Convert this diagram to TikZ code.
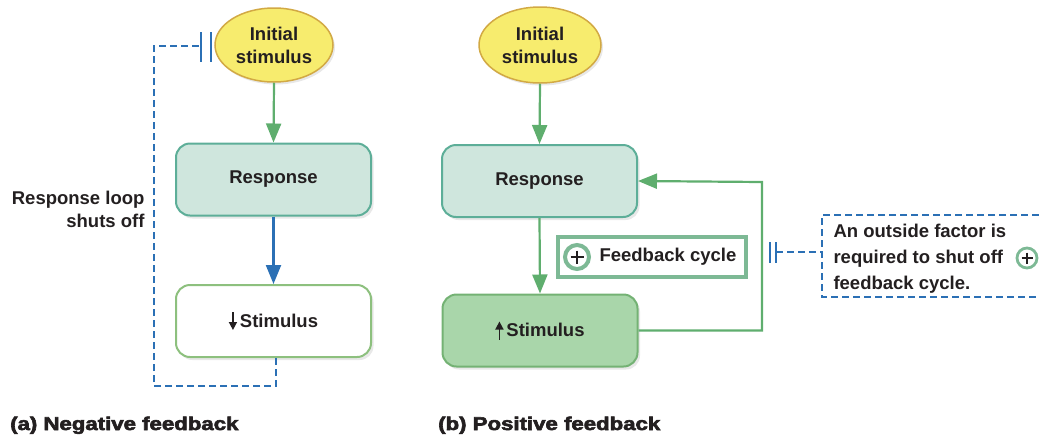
\documentclass[tikz,border=0pt]{standalone}
\usepackage{fontspec}
\setmainfont{Liberation Sans}
\newfontfamily\capfont{Liberation Sans}[BoldFeatures={FakeBold=3}]
\usetikzlibrary{arrows.meta,shapes.geometric,shadows,calc}

\definecolor{inkc}{HTML}{231F20}
\definecolor{yelfill}{HTML}{F7EC6E}
\definecolor{yeldraw}{HTML}{D2A944}
\definecolor{respfill}{HTML}{CFE6DD}
\definecolor{respdraw}{HTML}{5DAE98}
\definecolor{lstimdraw}{HTML}{8DC07E}
\definecolor{rstimfill}{HTML}{A9D6AA}
\definecolor{rstimdraw}{HTML}{74B274}
\definecolor{arrgreen}{HTML}{5FAE6E}
\definecolor{arrblue}{HTML}{2B70B5}
\definecolor{fbgreen}{HTML}{7DB995}

\tikzset{
  lbl/.style={font=\fontsize{18.5}{23}\selectfont\bfseries, text=inkc},
  startnode/.style={ellipse, draw=yeldraw, line width=1.5pt, fill=yelfill,
    inner sep=0pt, minimum width=118pt, minimum height=74pt, align=center, lbl,
    drop shadow={opacity=0.18, shadow xshift=2pt, shadow yshift=-2.5pt}},
  procbox/.style={rectangle, rounded corners=14pt, line width=2pt,
    minimum width=195pt, minimum height=72pt, inner sep=0pt, lbl,
    drop shadow={opacity=0.18, shadow xshift=2.5pt, shadow yshift=-3pt}},
  greenarrow/.style={draw=arrgreen, line width=2.2pt,
    -{Triangle[width=15pt,length=19pt]}},
  bluearrow/.style={draw=arrblue, line width=2.2pt,
    -{Triangle[width=15pt,length=19pt]}},
  stopline/.style={draw=arrblue, line width=2pt, dash pattern=on 7pt off 4pt},
  stopbar/.style={draw=arrblue, line width=2.2pt},
  pluscircle/.style={circle, draw=fbgreen, fill=white, inner sep=0pt},
  caption/.style={font=\capfont\fontsize{18.5}{22}\selectfont\bfseries, text=inkc, inner sep=0pt},
  markarrow/.style={inkc, line width=1.6pt, -{Triangle[width=8pt,length=8pt]}}
}

\newcommand{\plussign}[2]{% centre, half length
  \draw[inkc, line width=2.6pt] ($(#1)+(-#2,0)$) -- ($(#1)+(#2,0)$)
    ($(#1)+(0,-#2)$) -- ($(#1)+(0,#2)$);}
% thin arrows set before a label
\newcommand{\dnarrow}{\tikz[baseline=0pt]\draw[markarrow] (0pt,15pt) -- (0pt,-3pt);\hspace{3pt}}
\newcommand{\uparrowmark}{\tikz[baseline=0pt]\draw[markarrow] (0pt,-3pt) -- (0pt,15pt);\hspace{3pt}}

\begin{document}
\begin{tikzpicture}[x=1pt, y=-1pt]
\useasboundingbox (0,0) rectangle (1039,440);

% ---------------- (a) negative feedback ----------------
\node[startnode] (ini1) at (274,45) {Initial\\stimulus};
\node[procbox, draw=respdraw, fill=respfill] (resp1) at (273.5,179.5) {Response};
\node[procbox, draw=lstimdraw, fill=white] (stim1) at (273.5,321)
  {\dnarrow Stimulus};

\draw[greenarrow] (ini1.south) -- (resp1.north);
\draw[bluearrow] (resp1.south) -- (stim1.north);

% the response loop is cut back to the initial stimulus
\coordinate (cutA) at (201,46);
\coordinate (loopA) at (276,386);
\draw[stopline] (stim1.south -| loopA) -- (loopA) -| (154,46) -- (cutA);
\draw[stopbar] (201,32) -- (201,62) (211,32) -- (211,62);

\node[lbl, align=right, anchor=east] (shut) at (148,209)
  {Response loop\\shuts off};

\node[caption, anchor=base west] (capA) at (10,430)
  {\scalebox{1.2}[1]{(a) Negative feedback}};

% ---------------- (b) positive feedback ----------------
\node[startnode, minimum width=122pt, minimum height=76pt] (ini2) at (540,45) {Initial\\stimulus};
\node[procbox, draw=respdraw, fill=respfill] (resp2) at (539.5,181) {Response};
\node[procbox, draw=rstimdraw, fill=rstimfill] (stim2) at (540,330.5)
  {\uparrowmark Stimulus};

\draw[greenarrow] (ini2.south) -- (resp2.north);
\draw[greenarrow] (resp2.south) -- (stim2.north);
\coordinate (loopB) at (762,182);
\draw[greenarrow] (stim2.east) -| (loopB) -- (resp2.east);

% feedback cycle tag
\node[draw=fbgreen, line width=4pt, fill=white, minimum width=188pt,
  minimum height=40pt, inner sep=0pt] (fb) at (652,257) {};
\node[pluscircle, line width=4pt, minimum size=24pt] (fbplus) at (577,257) {};
\plussign{fbplus}{6.5}
\node[lbl, anchor=west] (fbtext) at (596,257) {Feedback cycle};

% an outside factor stops the cycle
\node[lbl, align=left, anchor=west, font=\fontsize{18.5}{26}\selectfont\bfseries]
  (outside) at (830,259) {An outside factor is\\required to shut off\\feedback cycle.};
\draw[stopline] (1039,215) -| (822,297) -- (1039,297);
\coordinate (cutB) at (776,252);
\draw[stopline] (cutB) -- (822,252);
\draw[stopbar] (770,242) -- (770,263) (776,242) -- (776,263);
\node[pluscircle, line width=2.8pt, minimum size=20pt] (outplus) at (1027,258) {};
\plussign{outplus}{5.5}

\node[caption, anchor=base west] (capB) at (438,430)
  {\scalebox{1.2}[1]{(b) Positive feedback}};
\end{tikzpicture}
\end{document}
